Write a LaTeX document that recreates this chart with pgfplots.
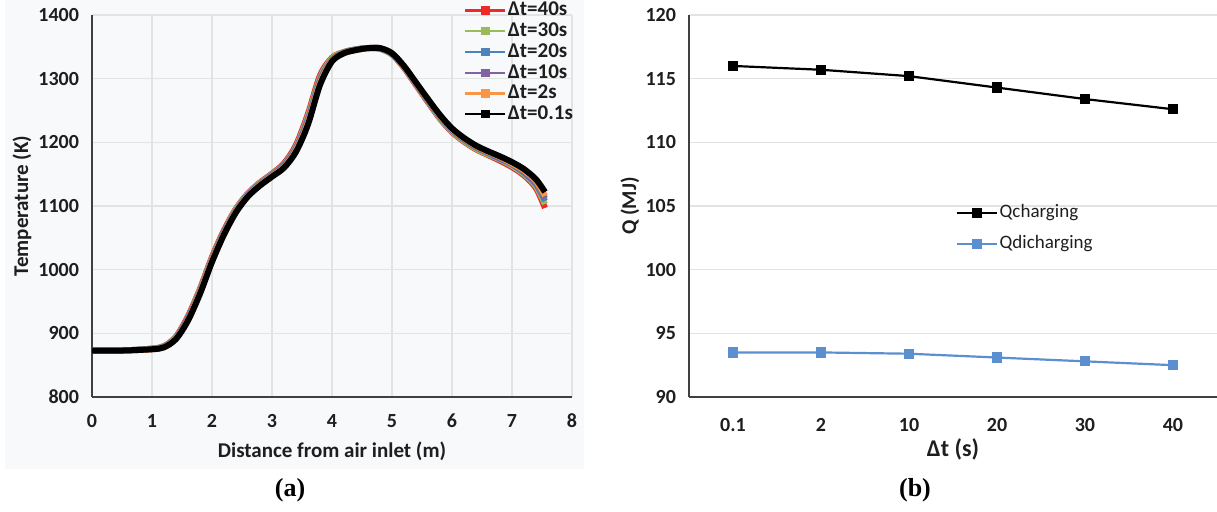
\documentclass[border=0pt]{standalone}
\usepackage{fontspec}
\setmainfont{Carlito}
\newfontfamily\tnr{Liberation Serif}
\usepackage{pgfplots}
\usepackage{pgfplotstable}
\pgfplotsset{compat=1.18}
\definecolor{bgc}{RGB}{247,249,250}
\definecolor{cred}{RGB}{240,40,40}
\definecolor{cgreen}{RGB}{155,187,89}
\definecolor{cblue}{RGB}{79,129,189}
\definecolor{cpurple}{RGB}{128,100,162}
\definecolor{corange}{RGB}{247,150,70}
\definecolor{qblue}{RGB}{91,143,208}
\definecolor{txt}{RGB}{30,30,30}

\pgfplotstableread{
x    r    g    b    p    o    k
0    873  873  873  873  873  873
0.5  873  873  873  873  873  873
1.0  876  876  876  875  875  875
1.2  880  880  879  879  878  878
1.4  895  894  893  893  892  891
1.6  927  925  924  923  921  920
1.8  970  968  966  965  964  962
2.0  1020 1018 1016 1015 1014 1012
2.2  1062 1060 1059 1058 1056 1055
2.4  1096 1095 1093 1092 1091 1090
2.6  1120 1119 1118 1117 1116 1115
2.8  1137 1136 1135 1134 1133 1132
3.0  1151 1150 1149 1148 1147 1146
3.2  1167 1165 1164 1163 1161 1160
3.4  1196 1193 1191 1189 1187 1185
3.6  1245 1241 1237 1235 1231 1228
3.8  1305 1301 1298 1296 1293 1290
4.0  1333 1332 1330 1329 1328 1327
4.2  1342 1342 1341 1341 1340 1340
4.4  1346 1346 1346 1345 1345 1345
4.6  1348 1348 1348 1348 1348 1348
4.8  1347 1347 1347 1348 1348 1348
5.0  1338 1338 1339 1339 1340 1340
5.2  1317 1318 1318 1319 1319 1320
5.4  1290 1291 1292 1292 1293 1294
5.6  1263 1264 1265 1266 1267 1268
5.8  1237 1238 1240 1241 1242 1243
6.0  1216 1217 1219 1220 1221 1222
6.2  1201 1202 1204 1205 1206 1207
6.4  1189 1190 1192 1193 1194 1195
6.6  1180 1181 1183 1184 1185 1186
6.8  1171 1173 1174 1175 1177 1178
7.0  1161 1163 1165 1166 1167 1169
7.2  1148 1150 1152 1154 1156 1158
7.4  1128 1131 1134 1136 1139 1142
7.55 1097 1103 1108 1112 1116 1122
}\tempdata

\pgfplotstableread{
x  qc     qd
0  116.0  93.5
1  115.7  93.5
2  115.2  93.4
3  114.3  93.1
4  113.4  92.8
5  112.6  92.5
}\qdata

\begin{document}
\begin{tikzpicture}
\useasboundingbox (0,0) rectangle (608.5pt,255.5pt);
\fill[bgc] (2.5pt,21pt) rectangle (292pt,255.5pt);
\begin{axis}[
  at={(46pt,57pt)}, anchor=south west, scale only axis,
  width=240pt, height=191pt,
  xmin=0, xmax=8, ymin=800, ymax=1400,
  xtick={0,1,...,8}, ytick={800,900,...,1400},
  axis x line*=bottom, axis y line*=left,
  axis line style={draw=black!75, line width=0.8pt},
  grid=major, grid style={draw=gray!22, line width=0.6pt},
  major tick length=0pt,
  /pgf/number format/assume math mode=true,
  /pgf/number format/1000 sep={},
  ticklabel style={font=\bfseries\fontsize{10}{12}\selectfont, text=txt},
  xticklabel style={yshift=-5pt},
  yticklabel style={xshift=-3pt},
  xlabel={Distance from air inlet (m)},
  ylabel={Temperature (K)},
  label style={font=\bfseries\fontsize{10.5}{12}\selectfont, text=txt},
  xlabel style={at={(axis description cs:0.5,0)}, anchor=center, yshift=-27pt},
  ylabel style={at={(axis description cs:-0.146,0.5)}, anchor=center},
  legend style={at={(axis description cs:0.775,1.038)}, anchor=north west,
    draw=none, fill=none, inner sep=0pt, row sep=0.8pt,
    font=\bfseries\fontsize{10.5}{11}\selectfont, text=txt,
    nodes={inner sep=0.6pt}},
  legend cell align=left,
  legend image code/.code={\draw[#1] (0pt,0pt) -- (20pt,0pt);
     \fill[#1] (10pt,0pt) +(-1.5pt,-1.5pt) rectangle +(1.5pt,1.5pt);},
]
\addlegendimage{cred, line width=1.1pt}
\addlegendentry{Δt=40s}
\addlegendimage{cgreen, line width=1.1pt}
\addlegendentry{Δt=30s}
\addlegendimage{cblue, line width=1.1pt}
\addlegendentry{Δt=20s}
\addlegendimage{cpurple, line width=1.1pt}
\addlegendentry{Δt=10s}
\addlegendimage{corange, line width=1.1pt}
\addlegendentry{Δt=2s}
\addlegendimage{black, line width=1.1pt}
\addlegendentry{Δt=0.1s}
\addplot[cred, line width=3pt, smooth, forget plot] table[x=x,y=r]{\tempdata};
\addplot[cgreen, line width=3pt, smooth, forget plot] table[x=x,y=g]{\tempdata};
\addplot[cblue, line width=3pt, smooth, forget plot] table[x=x,y=b]{\tempdata};
\addplot[cpurple, line width=3pt, smooth, forget plot] table[x=x,y=p]{\tempdata};
\addplot[corange, line width=3pt, smooth, forget plot] table[x=x,y=o]{\tempdata};
\addplot[black, line width=3pt, smooth, forget plot] table[x=x,y=k]{\tempdata};
\end{axis}

\begin{axis}[
  at={(344.5pt,57pt)}, anchor=south west, scale only axis,
  width=264pt, height=191pt,
  xmin=-0.5, xmax=5.5, ymin=90, ymax=120,
  xtick={0,...,5}, xticklabels={0.1,2,10,20,30,40},
  ytick={90,95,...,120},
  axis x line*=bottom, axis y line*=left,
  axis line style={draw=black!75, line width=0.8pt},
  ymajorgrids, grid style={draw=gray!22, line width=0.6pt},
  major tick length=0pt,
  /pgf/number format/assume math mode=true,
  ticklabel style={font=\bfseries\fontsize{10}{12}\selectfont, text=txt},
  xticklabel style={yshift=-7pt},
  yticklabel style={xshift=-3pt},
  xlabel={Δt (s)},
  ylabel={Q (MJ)},
  xlabel style={font=\bfseries\fontsize{12}{14}\selectfont, text=txt, at={(axis description cs:0.5,0)}, anchor=center, yshift=-26pt},
  ylabel style={font=\bfseries\fontsize{10.5}{12}\selectfont, text=txt, at={(axis description cs:-0.112,0.5)}, anchor=center},
  legend style={at={(axis description cs:0.504,0.51)}, anchor=north west,
    draw=none, fill=none, inner sep=0pt, row sep=5.5pt,
    font=\fontsize{9.5}{11}\selectfont, text=txt,
    nodes={inner sep=1pt}},
  legend cell align=left,
  legend image code/.code={\draw[mark repeat=2,mark phase=2,#1] plot coordinates {(0pt,0pt) (10pt,0pt) (20pt,0pt)};},
]
\addplot[black, line width=1.1pt, mark=square*, mark size=2pt] table[x=x,y=qc]{\qdata};
\addlegendentry{Qcharging}
\addplot[qblue, line width=1.1pt, mark=square*, mark size=2pt, mark options={fill=qblue}] table[x=x,y=qd]{\qdata};
\addlegendentry{Qdicharging}
\end{axis}

\node[font=\tnr\bfseries\fontsize{13}{15}\selectfont] at (145pt,10.5pt) {(a)};
\node[font=\tnr\bfseries\fontsize{13}{15}\selectfont] at (457.5pt,10.5pt) {(b)};
\end{tikzpicture}
\end{document}
